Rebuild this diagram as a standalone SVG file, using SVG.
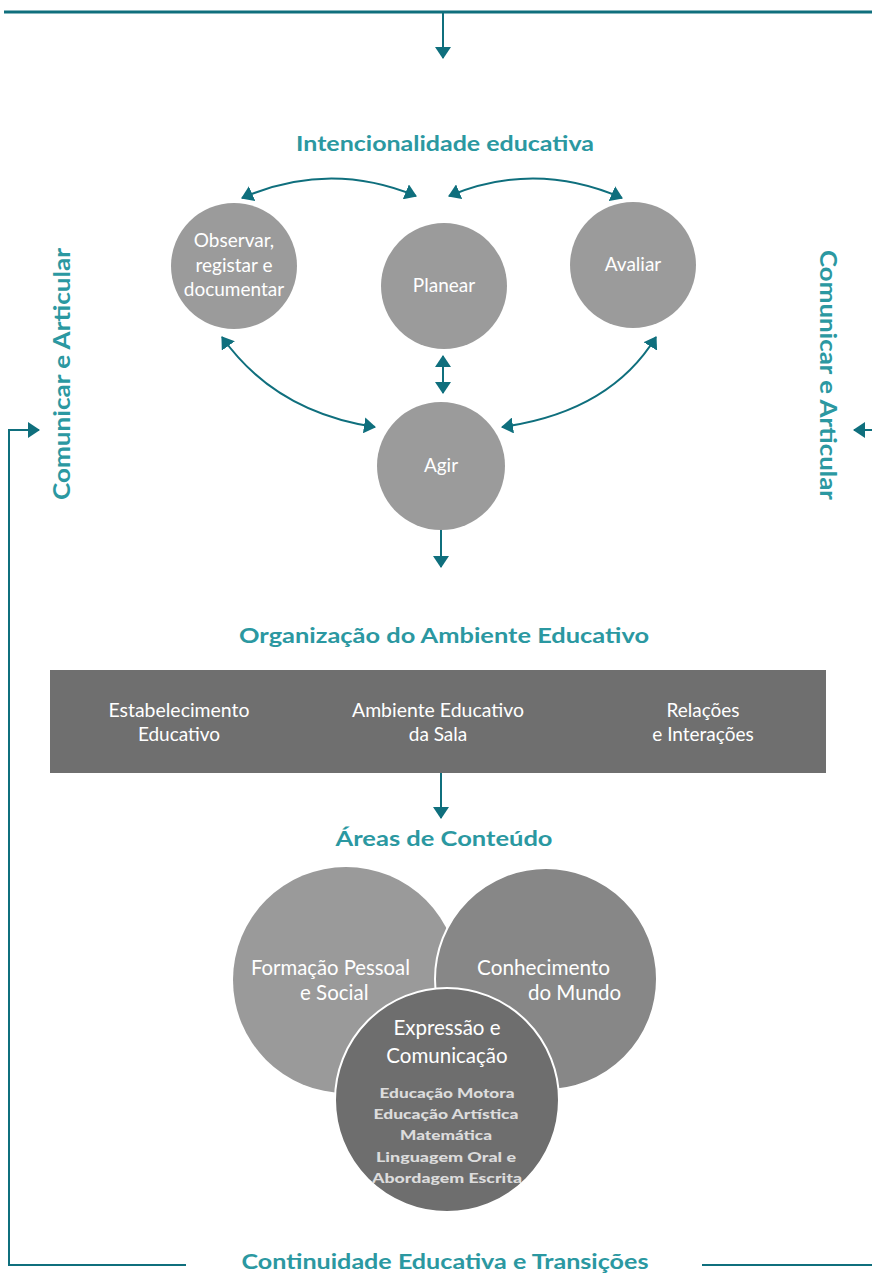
<svg xmlns="http://www.w3.org/2000/svg" width="872" height="1274" viewBox="0 0 872 1274">
<style>
.ln{fill:none;stroke:#0f6f7d;stroke-width:2}
.thick{fill:none;stroke:#0f6f7d;stroke-width:3}
.ttl{font-family:Lato,"Liberation Sans",sans-serif;font-weight:bold;fill:#2b98a1;text-anchor:middle}
.nd{font-family:Lato,"Liberation Sans",sans-serif;fill:#ffffff;text-anchor:middle;font-size:19px}
.bg{font-family:Lato,"Liberation Sans",sans-serif;fill:#ffffff;font-size:20.5px}
.sm{font-family:Lato,"Liberation Sans",sans-serif;font-weight:900;fill:#dcdcdc;text-anchor:middle;font-size:14px}
.c1{fill:#9b9b9b}
</style>
<defs>
<marker id="ah" viewBox="0 0 12 16" refX="11" refY="8" markerWidth="12" markerHeight="16" markerUnits="userSpaceOnUse" orient="auto-start-reverse">
<path d="M0,0 L12,8 L0,16 z" fill="#0f6f7d"/>
</marker>
</defs>
<rect width="872" height="1274" fill="#ffffff"/>
<g id="connectors">
<line class="thick" x1="4" y1="12" x2="872" y2="12"/>
<line class="ln" x1="443" y1="12" x2="443" y2="58" marker-end="url(#ah)"/>
<path class="ln" d="M242,198 Q329,160 416,196" marker-start="url(#ah)" marker-end="url(#ah)"/>
<path class="ln" d="M449,196 Q535,160 622,198" marker-start="url(#ah)" marker-end="url(#ah)"/>
<path class="ln" d="M222,337 Q275,412 375,427" marker-start="url(#ah)" marker-end="url(#ah)"/>
<path class="ln" d="M656,337 Q610,412 502,427" marker-start="url(#ah)" marker-end="url(#ah)"/>
<line class="ln" x1="443" y1="356" x2="443" y2="393" marker-start="url(#ah)" marker-end="url(#ah)"/>
<line class="ln" x1="441" y1="530" x2="441" y2="567" marker-end="url(#ah)"/>
<line class="ln" x1="441" y1="773" x2="441" y2="818" marker-end="url(#ah)"/>
<polyline class="ln" points="186,1265 9,1265 9,430 39,430" marker-end="url(#ah)"/>
<line class="ln" x1="702" y1="1265" x2="872" y2="1265"/>
<line class="ln" x1="872" y1="430" x2="854" y2="430" marker-end="url(#ah)"/>
</g>
<g id="title-intencionalidade"><text class="ttl" x="445" y="151" font-size="21" textLength="298" lengthAdjust="spacingAndGlyphs">Intencionalidade educativa</text></g>
<g id="label-left"><text class="ttl" font-size="22" transform="translate(70,374) rotate(-90)" textLength="252" lengthAdjust="spacingAndGlyphs">Comunicar e Articular</text></g>
<g id="label-right"><text class="ttl" font-size="22" transform="translate(820,375) rotate(90)" textLength="250" lengthAdjust="spacingAndGlyphs">Comunicar e Articular</text></g>
<g id="observar">
<circle class="c1" cx="234" cy="266" r="63"/>
<text class="nd" x="234" y="247">Observar,</text>
<text class="nd" x="234" y="272">registar e</text>
<text class="nd" x="234" y="296">documentar</text>
</g>
<g id="planear">
<circle class="c1" cx="444" cy="286" r="63"/>
<text class="nd" x="444" y="292">Planear</text>
</g>
<g id="avaliar">
<circle class="c1" cx="633" cy="265" r="63"/>
<text class="nd" x="633" y="271">Avaliar</text>
</g>
<g id="agir">
<circle class="c1" cx="441" cy="466" r="64"/>
<text class="nd" x="441" y="472">Agir</text>
</g>
<g id="title-organizacao"><text class="ttl" x="444" y="643" font-size="21" textLength="410" lengthAdjust="spacingAndGlyphs">Organização do Ambiente Educativo</text></g>
<g id="ambiente">
<rect x="50" y="670" width="776" height="103" fill="#6f6f6f"/>
<text class="nd" x="179" y="717" textLength="141" lengthAdjust="spacingAndGlyphs">Estabelecimento</text>
<text class="nd" x="179" y="741">Educativo</text>
<text class="nd" x="438" y="717" textLength="172" lengthAdjust="spacingAndGlyphs">Ambiente Educativo</text>
<text class="nd" x="438" y="741">da Sala</text>
<text class="nd" x="703" y="717">Relações</text>
<text class="nd" x="703" y="741">e Interações</text>
</g>
<g id="title-areas"><text class="ttl" x="444" y="846" font-size="21" textLength="217" lengthAdjust="spacingAndGlyphs">Áreas de Conteúdo</text></g>
<g id="formacao">
<circle cx="346" cy="980" r="113" fill="#9a9a9a"/>
<text class="bg" x="251" y="975" textLength="159" lengthAdjust="spacingAndGlyphs">Formação Pessoal</text>
<text class="bg" x="300" y="1000">e Social</text>
</g>
<g id="conhecimento">
<circle cx="546" cy="979" r="111" fill="#878787" stroke="#ffffff" stroke-width="2"/>
<text class="bg" x="477" y="975" textLength="133" lengthAdjust="spacingAndGlyphs">Conhecimento</text>
<text class="bg" x="528" y="1000">do Mundo</text>
</g>
<g id="expressao">
<circle cx="447" cy="1100" r="112" fill="#6e6e6e" stroke="#ffffff" stroke-width="2"/>
<text class="bg" x="447" y="1035" text-anchor="middle">Expressão e</text>
<text class="bg" x="447" y="1063" text-anchor="middle">Comunicação</text>
<text class="sm" x="447" y="1098" textLength="135" lengthAdjust="spacingAndGlyphs">Educação Motora</text>
<text class="sm" x="446" y="1119" textLength="145" lengthAdjust="spacingAndGlyphs">Educação Artística</text>
<text class="sm" x="446" y="1140" textLength="92" lengthAdjust="spacingAndGlyphs">Matemática</text>
<text class="sm" x="446" y="1162" textLength="140" lengthAdjust="spacingAndGlyphs">Linguagem Oral e</text>
<text class="sm" x="447" y="1183" textLength="150" lengthAdjust="spacingAndGlyphs">Abordagem Escrita</text>
</g>
<g id="title-continuidade"><text class="ttl" x="445" y="1269" font-size="21" textLength="407" lengthAdjust="spacingAndGlyphs">Continuidade Educativa e Transições</text></g>
</svg>
